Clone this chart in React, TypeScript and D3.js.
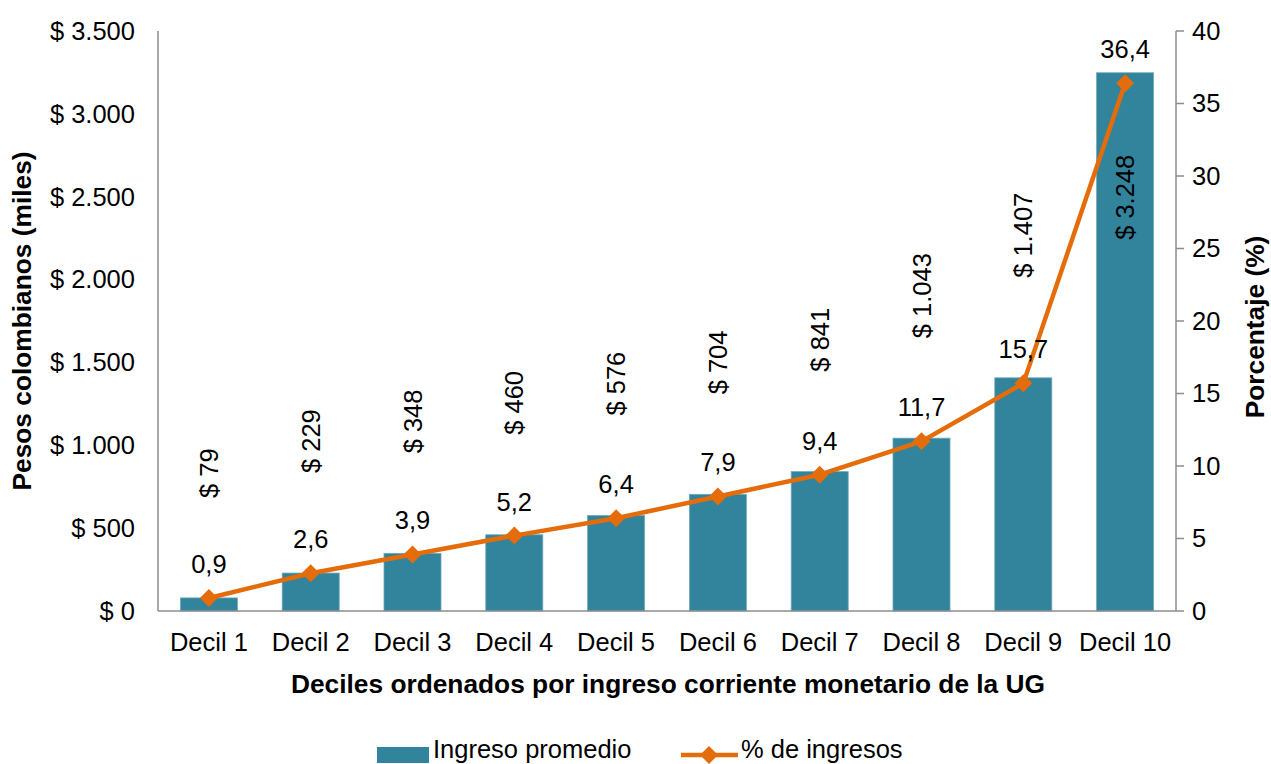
import React from "react";
import * as d3 from "d3";

const categories = ["Decil 1", "Decil 2", "Decil 3", "Decil 4", "Decil 5", "Decil 6", "Decil 7", "Decil 8", "Decil 9", "Decil 10"];
const ingresoPromedio = [79, 229, 348, 460, 576, 704, 841, 1043, 1407, 3248];
const pctIngresos = [0.9, 2.6, 3.9, 5.2, 6.4, 7.9, 9.4, 11.7, 15.7, 36.4];
const leftTicks = [0, 500, 1000, 1500, 2000, 2500, 3000, 3500];
const rightTicks = [0, 5, 10, 15, 20, 25, 30, 35, 40];

const W = 1271, H = 764;
const M = { left: 158, right: 1176, top: 31, bottom: 611 };
const BAR = "#31849B";
const LINE = "#E46C0A";
const AX = "#8c8c8c";
const FONT = "Liberation Sans, Arial, sans-serif";
const FS = 25.5;
const FT = 26.3;

const fmtMoney = (v: number) => "$ " + d3.format(",")(v).replace(/,/g, ".");
const fmtPct = (v: number) => v.toFixed(1).replace(".", ",");

export default function App() {
  const x = d3.scaleBand<string>().domain(categories).range([M.left, M.right]).paddingInner(0.44).paddingOuter(0.22);
  const yL = d3.scaleLinear().domain([0, 3500]).range([M.bottom, M.top]);
  const yR = d3.scaleLinear().domain([0, 40]).range([M.bottom, M.top]);
  const cx = (c: string) => (x(c) as number) + x.bandwidth() / 2;
  const line = d3.line<number>().x((_, i) => cx(categories[i])).y((d) => yR(d));
  const diamond = (px: number, py: number, r: number) => `M${px},${py - r}L${px + r},${py}L${px},${py + r}L${px - r},${py}Z`;

  return (
    <svg width={W} height={H} style={{ position: "absolute", left: 0, top: 0 }} fontFamily={FONT}>
      <rect width={W} height={H} fill="#fff" />
      {/* bars */}
      {ingresoPromedio.map((v, i) => (
        <rect key={i} x={x(categories[i])} y={yL(v)} width={x.bandwidth()} height={M.bottom - yL(v)} fill={BAR} stroke="#6fa9b9" strokeWidth={0.8} />
      ))}
      {/* axes */}
      <line x1={M.left} x2={M.left} y1={M.top} y2={M.bottom} stroke={AX} strokeWidth={1.5} />
      <line x1={M.left} x2={M.right} y1={M.bottom} y2={M.bottom} stroke={AX} strokeWidth={1.5} />
      <line x1={M.right} x2={M.right} y1={M.top} y2={M.bottom} stroke={AX} strokeWidth={1.5} />
      {leftTicks.map((t) => (
        <text key={t} x={135} y={yL(t)} dy="0.35em" textAnchor="end" fontSize={FS} fill="#000">{fmtMoney(t)}</text>
      ))}
      {rightTicks.map((t) => (
        <g key={t}>
          <line x1={M.right} x2={M.right + 8} y1={yR(t)} y2={yR(t)} stroke={AX} strokeWidth={1.5} />
          <text x={1192} y={yR(t)} dy="0.35em" textAnchor="start" fontSize={FS} fill="#000">{t}</text>
        </g>
      ))}
      {categories.map((c) => (
        <text key={c} x={cx(c)} y={651} textAnchor="middle" fontSize={FS} fill="#000">{c}</text>
      ))}
      {/* axis titles */}
      <text x={668} y={693} textAnchor="middle" fontSize={FT} fontWeight="bold" fill="#000">Deciles ordenados por ingreso corriente monetario de la UG</text>
      <text transform={`translate(31,321) rotate(-90)`} textAnchor="middle" fontSize={FT} fontWeight="bold" fill="#000">Pesos colombianos (miles)</text>
      <text transform={`translate(1264,327) rotate(-90)`} textAnchor="middle" fontSize={FT} fontWeight="bold" fill="#000">Porcentaje (%)</text>
      {/* bar labels */}
      {ingresoPromedio.map((v, i) => {
        const px = cx(categories[i]);
        const inside = yL(v) - 100 - 130 < M.top;
        const py = inside ? yL(v) + 82 : yL(v) - 100;
        return (
          <text key={i} transform={`translate(${px + 9},${py}) rotate(-90)`} textAnchor={inside ? "end" : "start"} fontSize={FS} fill="#000">{fmtMoney(v)}</text>
        );
      })}
      {/* line */}
      <path d={line(pctIngresos) as string} fill="none" stroke={LINE} strokeWidth={4.5} strokeLinejoin="round" />
      {pctIngresos.map((v, i) => (
        <path key={i} d={diamond(cx(categories[i]), yR(v), 9)} fill={LINE} />
      ))}
      {pctIngresos.map((v, i) => (
        <text key={i} x={cx(categories[i])} y={yR(v) - 34} dy="0.35em" textAnchor="middle" fontSize={FS} fill="#000">{fmtPct(v)}</text>
      ))}
      {/* legend */}
      <rect x={377} y={747} width={52} height={16} fill={BAR} />
      <text x={433} y={757.5} fontSize={FS} fill="#000">Ingreso promedio</text>
      <line x1={681} x2={738} y1={755} y2={755} stroke={LINE} strokeWidth={4.5} />
      <path d={diamond(709, 755, 9)} fill={LINE} />
      <text x={741} y={757.5} fontSize={FS} fill="#000">% de ingresos</text>
    </svg>
  );
}
